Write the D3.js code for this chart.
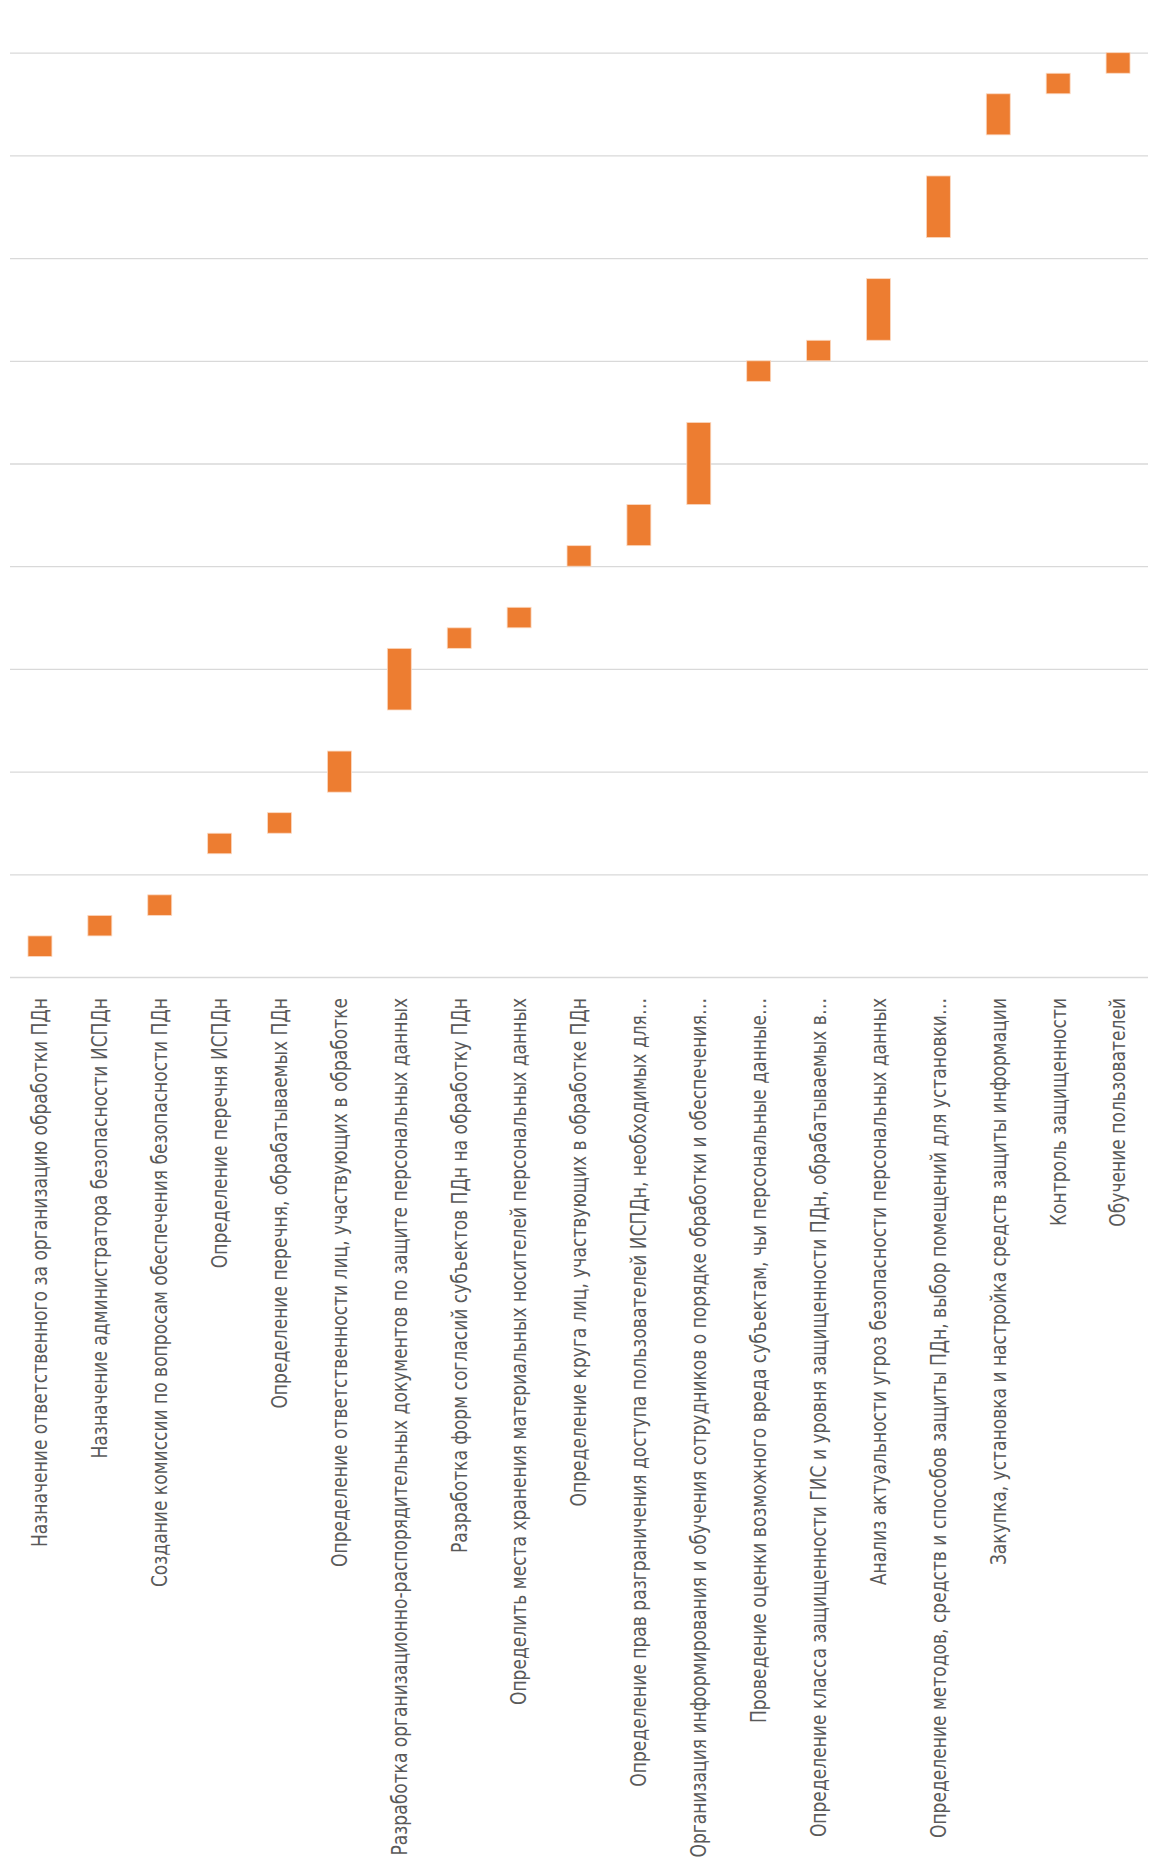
<!DOCTYPE html>
<html>
<head>
<meta charset="utf-8">
<script src="https://cdn.jsdelivr.net/npm/d3@7"></script>
<style>
  html, body { margin: 0; padding: 0; background: #fff; }
  svg { display: block; }
</style>
</head>
<body>
<div id="chart"></div>
<script>
const
  width = 1152,
  height = 1861;

// tasks, start day and end day
const tasks = [
  "Назначение ответственного за организацию обработки ПДн",
  "Назначение администратора безопасности ИСПДн",
  "Создание комиссии по вопросам обеспечения безопасности ПДн",
  "Определение перечня ИСПДн",
  "Определение перечня, обрабатываемых ПДн",
  "Определение ответственности лиц, участвующих в обработке",
  "Разработка организационно-распорядительных документов по защите персональных данных",
  "Разработка форм согласий субъектов ПДн на обработку ПДн",
  "Определить места хранения материальных носителей персональных данных",
  "Определение круга лиц, участвующих в обработке ПДн",
  "Определение прав разграничения доступа пользователей ИСПДн, необходимых для…",
  "Организация информирования и обучения сотрудников о порядке обработки и обеспечения…",
  "Проведение оценки возможного вреда субъектам, чьи персональные данные…",
  "Определение класса защищенности ГИС и уровня защищенности ПДн, обрабатываемых в…",
  "Анализ актуальности угроз безопасности персональных данных",
  "Определение методов, средств и способов защиты ПДн, выбор помещений для установки…",
  "Закупка, установка и настройка средств защиты информации",
  "Контроль защищенности",
  "Обучение пользователей"
];
const starts = [1, 2, 3, 6, 7, 9, 13, 16, 17, 20, 21, 23, 29, 30, 31, 36, 41, 43, 44];
const ends   = [2, 3, 4, 7, 8, 11, 16, 17, 18, 21, 23, 27, 30, 31, 34, 39, 43, 44, 45];
const gridTicks = [0, 5, 10, 15, 20, 25, 30, 35, 40, 45];

const margin = {top: 52.7, right: 4, bottom: 884, left: 10};
const innerW = width - margin.left - margin.right;
const innerH = height - margin.top - margin.bottom;

const svg = d3.select("#chart")
  .append("svg")
  .attr("width", width)
  .attr("height", height);

const g = svg.append("g")
  .attr("transform", "translate(" + margin.left + "," + margin.top + ")");

const x = d3.scaleBand()
  .domain(tasks)
  .range([0, innerW])
  .paddingInner(0.6)
  .paddingOuter(0.3);

const y = d3.scaleLinear()
  .domain([0, 45])
  .range([innerH, 0]);

// gridlines
g.append("g")
  .call(d3.axisLeft(y).tickValues(gridTicks).tickSize(-innerW).tickFormat(""))
  .call(a => a.select(".domain").remove())
  .call(a => a.selectAll("line").attr("stroke", "#d9d9d9").attr("stroke-width", 1.3));

// bars
g.append("g")
  .selectAll("rect")
  .data(tasks)
  .enter().append("rect")
  .attr("x", d => x(d))
  .attr("width", x.bandwidth())
  .attr("y", (d, i) => y(ends[i]))
  .attr("height", (d, i) => y(starts[i]) - y(ends[i]))
  .attr("fill", "#ed7d31")
  .attr("stroke", "#fbd9c2")
  .attr("stroke-width", 0.8);

// category labels (condensed face squeezed along the text direction)
const xAxis = g.append("g")
  .attr("transform", "translate(0," + innerH + ")")
  .call(d3.axisBottom(x).tickSize(0).tickPadding(0));
xAxis.select(".domain").remove();
xAxis.selectAll("text")
  .attr("transform", "translate(0,21) rotate(-90) scale(0.905,1)")
  .attr("x", 0)
  .attr("y", 0)
  .attr("dy", "0.35em")
  .attr("text-anchor", "end")
  .attr("fill", "#595959")
  .style("font-family", "'Liberation Sans Narrow', 'DejaVu Sans Condensed', 'Roboto', sans-serif")
  .style("font-size", "21px");
</script>
</body>
</html>
